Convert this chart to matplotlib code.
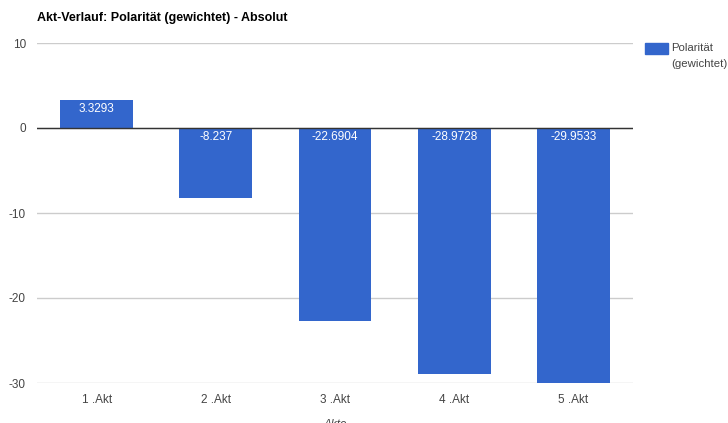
import matplotlib
matplotlib.use("Agg")
import matplotlib.pyplot as plt

acts = ["1 .Akt", "2 .Akt", "3 .Akt", "4 .Akt", "5 .Akt"]
polarity = [3.3293, -8.237, -22.6904, -28.9728, -29.9533]
labels = ["3.3293", "-8.237", "-22.6904", "-28.9728", "-29.9533"]
yticks = [10, 0, -10, -20, -30]

BLUE = "#3366cc"
plt.rcParams["font.family"] = ["Liberation Sans", "DejaVu Sans"]

fig = plt.figure(figsize=(7.28, 4.23), dpi=100)
ax = fig.add_axes([37 / 728, 40 / 423, 596 / 728, 340 / 423])

x = range(len(acts))
ax.bar(x, polarity, width=0.61, color=BLUE, zorder=3)
for i, (v, s) in enumerate(zip(polarity, labels)):
    top = max(v, 0)
    ax.text(i, top - 0.4, s, color="white", fontsize=8.5, ha="center", va="top", zorder=4)

ax.set_xlim(-0.5, len(acts) - 0.5)
ax.set_ylim(-30, 10)
ax.set_yticks(yticks)
ax.set_yticklabels([str(t) for t in yticks])
ax.set_xticks(list(x))
ax.set_xticklabels(acts)
ax.tick_params(axis="both", length=0, labelsize=8.5, colors="#444444")
ax.tick_params(axis="x", pad=8)
ax.tick_params(axis="y", pad=8)
ax.grid(axis="y", color="#cccccc", lw=1, zorder=0)
ax.axhline(0, color="#333333", lw=1, zorder=5)
for sp in ax.spines.values():
    sp.set_visible(False)

ax.set_xlabel("Akte", fontsize=8.5, style="italic", color="#444444", labelpad=9)

fig.text(37 / 728, 1 - 18 / 423, "Akt-Verlauf: Polarität (gewichtet) - Absolut",
         fontsize=9, fontweight="bold", va="center", ha="left", color="#000000")

# legend
fig.patches.append(plt.Rectangle((645 / 728, 1 - 54 / 423), 23 / 728, 11 / 423,
                                 transform=fig.transFigure, color=BLUE))
fig.text(671 / 728, 1 - 48 / 423, "Polarität", fontsize=8.2, va="center", ha="left", color="#444444")
fig.text(671 / 728, 1 - 64 / 423, "(gewichtet)", fontsize=8.2, va="center", ha="left", color="#444444")

fig.savefig("out.png", dpi=100)
